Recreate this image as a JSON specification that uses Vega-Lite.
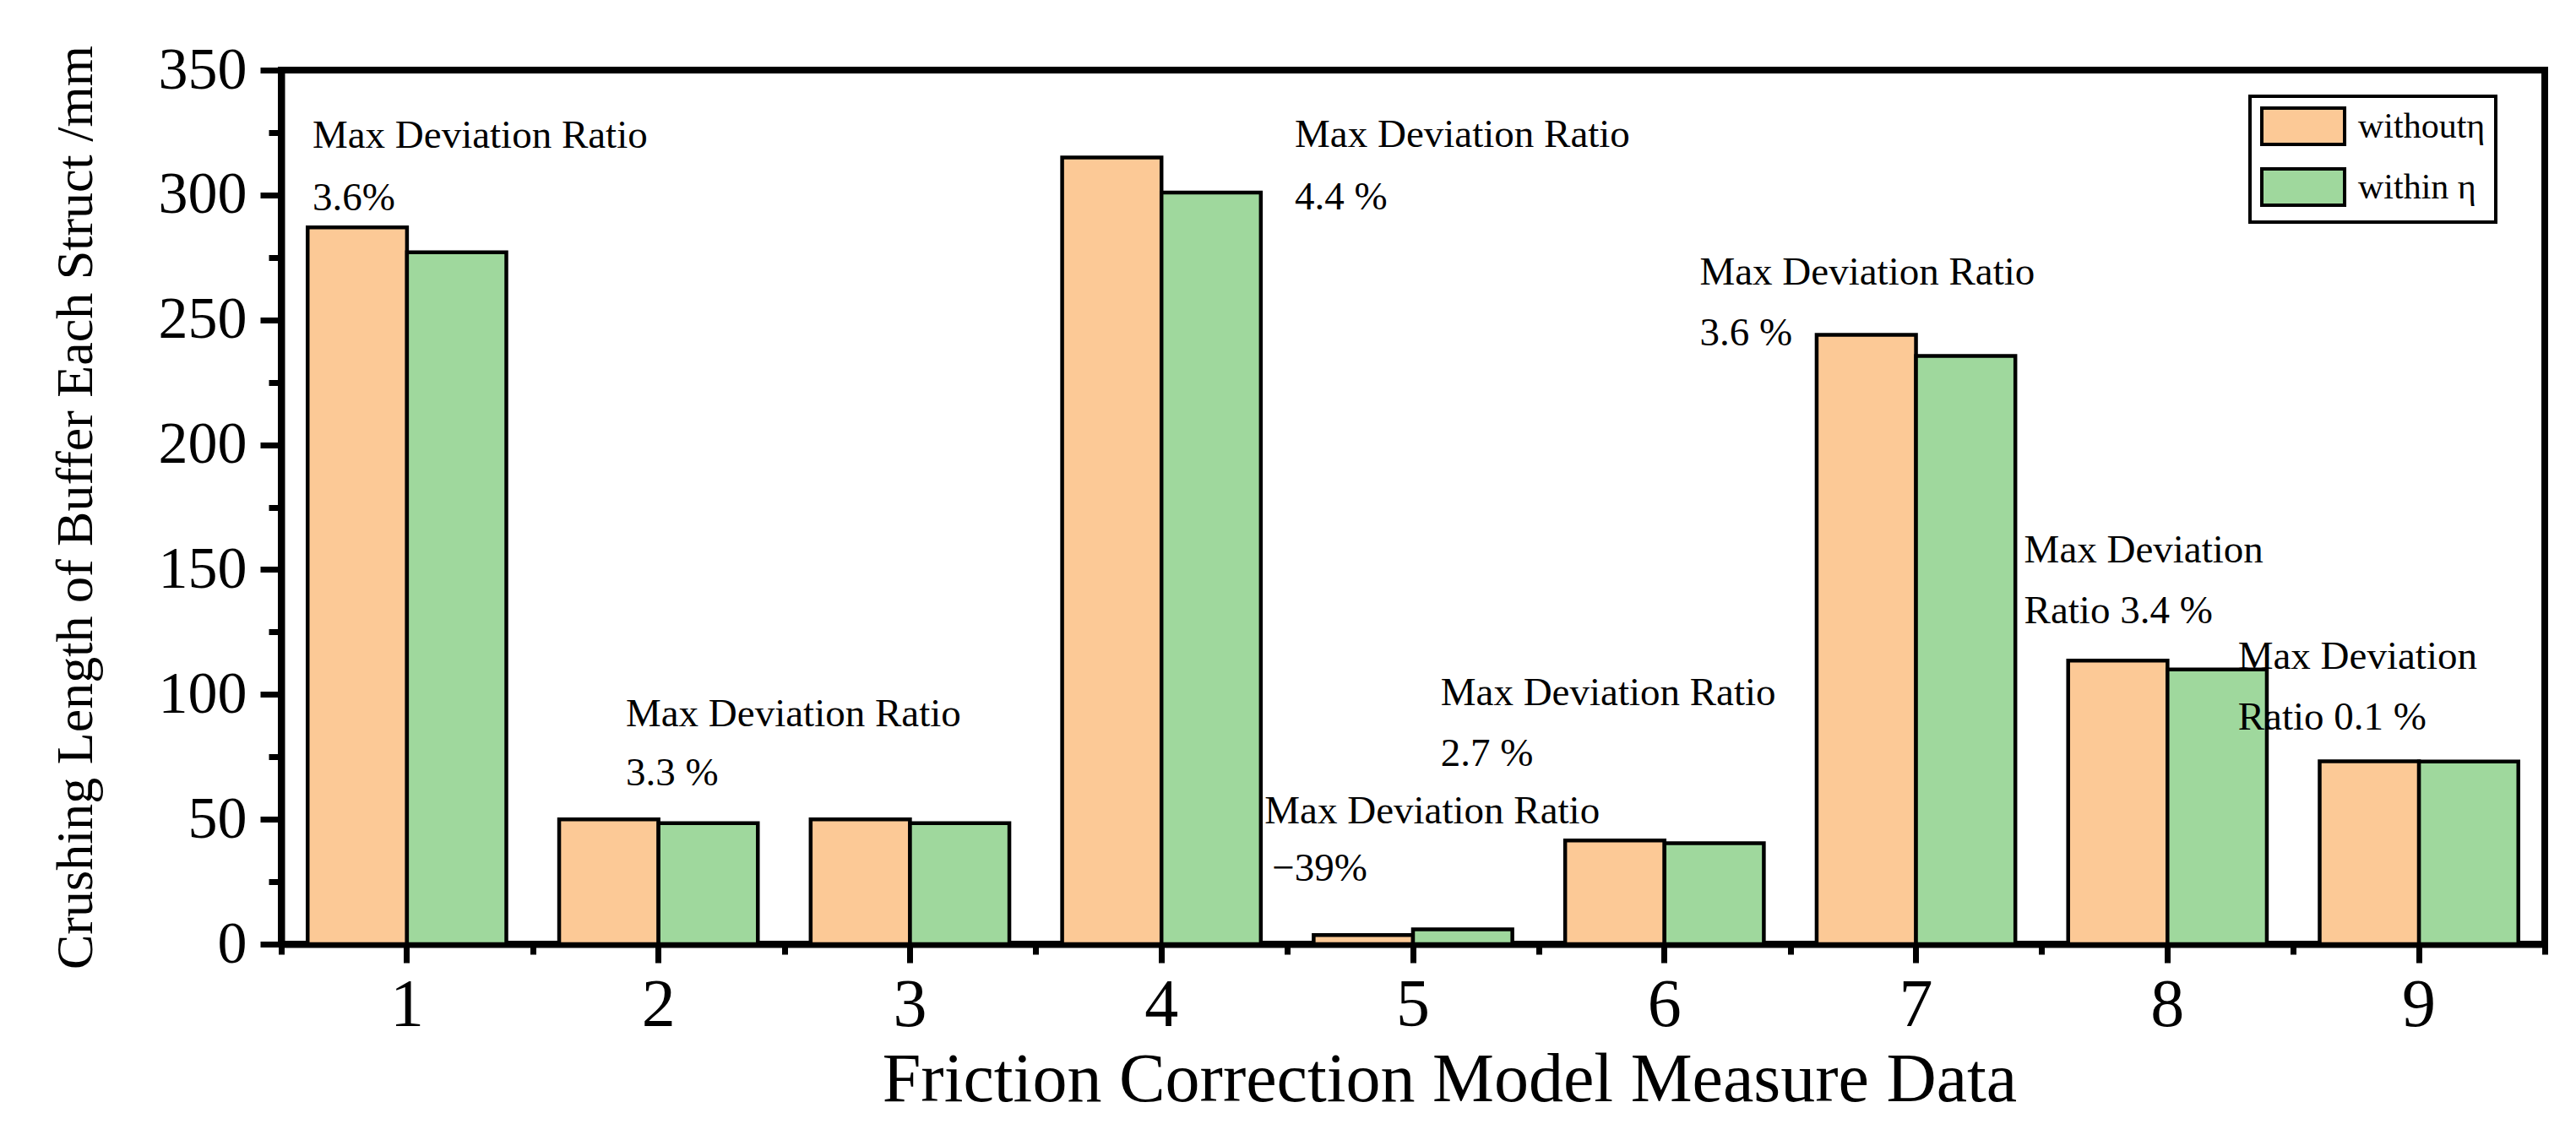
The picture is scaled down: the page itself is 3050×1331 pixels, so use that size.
{
  "$schema": "https://vega.github.io/schema/vega-lite/v6.json",
  "autosize": "none",
  "width": 2680,
  "height": 1035,
  "padding": {"left": 333, "top": 83, "right": 37, "bottom": 213},
  "background": "white",
  "config": {
    "font": "Times New Roman, Liberation Serif, serif",
    "text": {"font": "Times New Roman, Liberation Serif, serif"},
    "view": {"stroke": "black", "strokeWidth": 8},
    "axis": {"domainColor": "black", "tickColor": "black", "labelColor": "black", "titleColor": "black", "grid": false, "labelFont": "Times New Roman, Liberation Serif, serif", "titleFont": "Times New Roman, Liberation Serif, serif", "titleFontWeight": "normal"},
    "legend": {"labelFont": "Times New Roman, Liberation Serif, serif"}
  },
  "datasets": {
    "bars": [
      {"group": "1", "series": "withoutη", "value": 287},
      {"group": "1", "series": "within η", "value": 277},
      {"group": "2", "series": "withoutη", "value": 50},
      {"group": "2", "series": "within η", "value": 48.4},
      {"group": "3", "series": "withoutη", "value": 50},
      {"group": "3", "series": "within η", "value": 48.4},
      {"group": "4", "series": "withoutη", "value": 315},
      {"group": "4", "series": "within η", "value": 301},
      {"group": "5", "series": "withoutη", "value": 3.6},
      {"group": "5", "series": "within η", "value": 5.9},
      {"group": "6", "series": "withoutη", "value": 41.5},
      {"group": "6", "series": "within η", "value": 40.4},
      {"group": "7", "series": "withoutη", "value": 244},
      {"group": "7", "series": "within η", "value": 235.5},
      {"group": "8", "series": "withoutη", "value": 113.5},
      {"group": "8", "series": "within η", "value": 110},
      {"group": "9", "series": "withoutη", "value": 73.2},
      {"group": "9", "series": "within η", "value": 73.1}
    ],
    "notes": [
      {"label": "Max Deviation Ratio", "xpos": 0.624, "ypos": 323.6},
      {"label": "3.6%", "xpos": 0.624, "ypos": 298.6},
      {"label": "Max Deviation Ratio", "xpos": 1.87, "ypos": 92},
      {"label": "3.3 %", "xpos": 1.87, "ypos": 68.3},
      {"label": "Max Deviation Ratio", "xpos": 4.53, "ypos": 324},
      {"label": "4.4 %", "xpos": 4.53, "ypos": 299},
      {"label": "Max Deviation Ratio", "xpos": 4.41, "ypos": 53},
      {"label": "−39%", "xpos": 4.44, "ypos": 30},
      {"label": "Max Deviation Ratio", "xpos": 5.11, "ypos": 100.5},
      {"label": "2.7 %", "xpos": 5.11, "ypos": 76},
      {"label": "Max Deviation Ratio", "xpos": 6.14, "ypos": 269},
      {"label": "3.6 %", "xpos": 6.14, "ypos": 244.5},
      {"label": "Max Deviation", "xpos": 7.43, "ypos": 157.7},
      {"label": "Ratio 3.4 %", "xpos": 7.43, "ypos": 133.4},
      {"label": "Max Deviation", "xpos": 8.28, "ypos": 115},
      {"label": "Ratio 0.1 %", "xpos": 8.28, "ypos": 90.6}
    ]
  },
  "layer": [
    {
      "data": {"name": "bars"},
      "mark": {"type": "bar", "stroke": "black", "strokeWidth": 4.5},
      "encoding": {
        "x": {
          "field": "group", "type": "nominal",
          "scale": {"paddingInner": 0.21, "paddingOuter": 0.105},
          "axis": {
            "orient": "bottom", "title": "Friction Correction Model Measure Data",
            "labelAngle": 0, "labelFontSize": 80, "labelPadding": 11,
            "tickSize": 22, "tickWidth": 7, "domainWidth": 8,
            "titleFontSize": 82, "titlePadding": 8, "titleX": 1383, "titleAlign": "center"
          }
        },
        "xOffset": {"field": "series", "type": "nominal", "scale": {"domain": ["withoutη", "within η"], "paddingInner": 0}},
        "y": {
          "field": "value", "type": "quantitative",
          "scale": {"domain": [0, 350], "nice": false},
          "axis": {
            "orient": "left", "title": "Crushing Length of Buffer Each Struct /mm",
            "values": [0, 50, 100, 150, 200, 250, 300, 350],
            "labelFontSize": 70, "labelPadding": 16,
            "tickSize": 25, "tickWidth": 7, "domainWidth": 8,
            "titleFontSize": 62, "titlePadding": 66
          }
        },
        "color": {
          "field": "series", "type": "nominal",
          "scale": {"domain": ["withoutη", "within η"], "range": ["#FCC996", "#9FD89D"]},
          "legend": {
            "title": null, "orient": "none", "legendX": 2331, "legendY": 31,
            "symbolType": "M-1,-1H3.56V1H-1Z", "symbolSize": 1849,
            "symbolStrokeColor": "black", "symbolStrokeWidth": 4, "symbolOpacity": 1,
            "labelFontSize": 42, "labelColor": "black", "labelOffset": 69,
            "rowPadding": 13, "padding": 12,
            "strokeColor": "black", "fillColor": "white",
            "encode": {"legend": {"update": {"strokeWidth": {"value": 4}}}}
          }
        }
      }
    },
    {
      "data": {"name": "notes"},
      "mark": {"type": "text", "align": "left", "baseline": "middle", "fontSize": 47, "color": "black"},
      "encoding": {
        "x": {
          "field": "xpos", "type": "quantitative",
          "scale": {"domain": [0.5, 9.5], "nice": false, "zero": false},
          "axis": {
            "orient": "bottom", "title": null, "labels": false, "domain": false,
            "values": [0.5, 1.5, 2.5, 3.5, 4.5, 5.5, 6.5, 7.5, 8.5, 9.5],
            "tickSize": 12, "tickWidth": 7
          }
        },
        "y": {
          "field": "ypos", "type": "quantitative",
          "axis": {
            "orient": "left", "title": null, "labels": false, "domain": false,
            "values": [25, 75, 125, 175, 225, 275, 325],
            "tickSize": 15, "tickWidth": 7
          }
        },
        "text": {"field": "label", "type": "nominal"}
      }
    }
  ],
  "resolve": {"scale": {"x": "independent"}, "axis": {"x": "independent", "y": "independent"}}
}
